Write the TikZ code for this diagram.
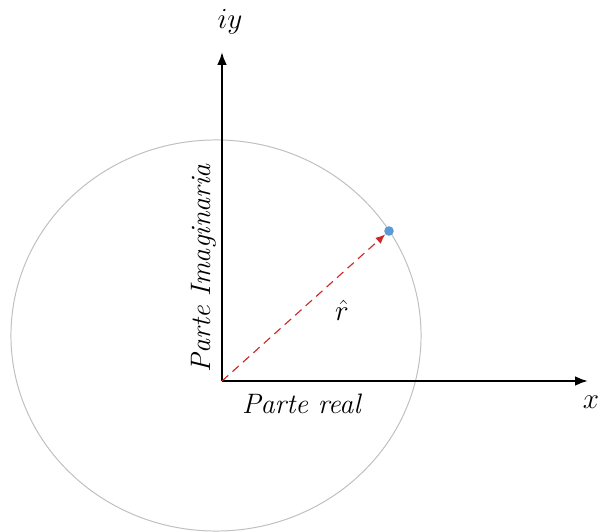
\documentclass[tikz,border=0pt]{standalone}
\usetikzlibrary{arrows.meta}
\definecolor{ptblue}{RGB}{91,155,213}
\definecolor{vecred}{RGB}{204,40,40}

\begin{document}
\begin{tikzpicture}[x=0.025cm,y=-0.025cm,>=Latex,
  font=\fontsize{20}{24}\selectfont,
  axis/.style={->,line width=1.5pt,>={Latex[length=3.2mm,width=2.4mm]}},
  lbl/.style={inner sep=0pt}]
\useasboundingbox (0,0) rectangle (600,532);
% unit circle (slightly squashed, as in the picture)
\draw[gray!50,line width=0.7pt] (216,335.5) ellipse [x radius=5.125cm,y radius=4.8875cm];
% axes
\coordinate (o) at (222,381);
\coordinate (ytop) at (222,52);
\coordinate (xend) at (588,381);
\draw[axis] (o)--(ytop);
\draw[axis] (o)--(xend);
\node[lbl] (iy) at (230,22) {$iy$};
\node[lbl] (xl) at (591,402) {$x$};
% point and its vector
\node[circle,fill=ptblue,inner sep=0pt,minimum size=2.4mm] (p) at (389,231) {};
\draw[->,vecred,dashed,line width=0.8pt,>={Latex[length=2.4mm,width=2mm]},dash pattern=on 6pt off 4pt]
  (o)--(p);
\node[lbl] (r) at (342,310) {$\hat{r}$};
\node[lbl] (re) at (302,404) {\textit{Parte real}};
\node[lbl,rotate=90] (im) at (204,268) {\textit{Parte Imaginaria}};
\end{tikzpicture}
\end{document}
